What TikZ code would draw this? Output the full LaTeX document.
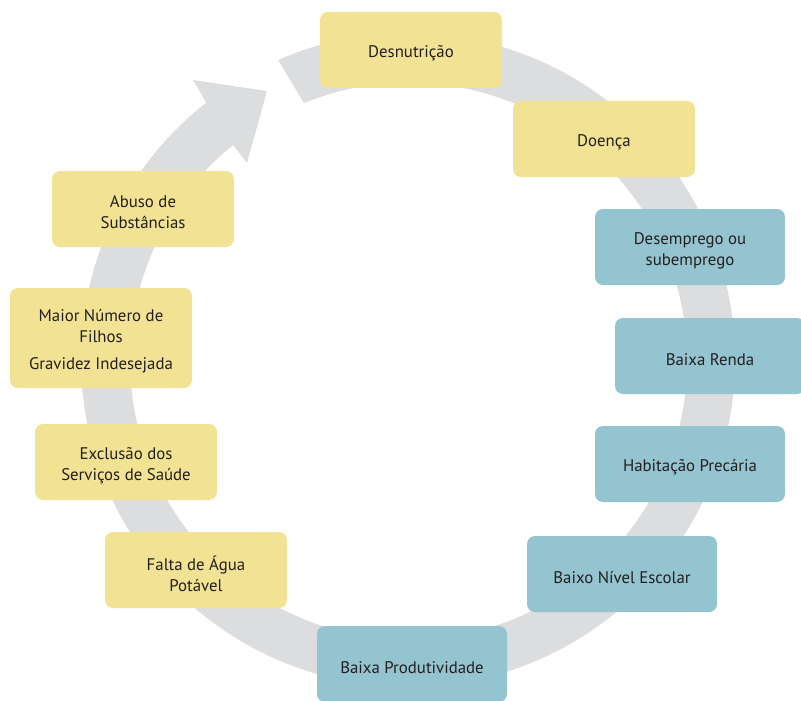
\documentclass[tikz,border=0pt]{standalone}
\usepackage{fontspec}
\setmainfont{PT Sans}
\usetikzlibrary{calc}
\definecolor{boxyellow}{HTML}{F2E293}
\definecolor{boxblue}{HTML}{94C4D0}
\definecolor{ringgray}{HTML}{DCDDDE}
\definecolor{txt}{HTML}{231F20}
\begin{document}
\begin{tikzpicture}[x=1pt,y=1pt,
  boxtext/.style={align=center, text=txt, inner sep=0pt, yshift=-3.5pt,
    font=\fontsize{16.8}{21}\selectfont},
  cyclebox/.style={rounded corners=8pt, minimum height=76pt, inner sep=0pt},
  ybox/.style={cyclebox, fill=boxyellow, minimum width=182pt},
  bbox/.style={cyclebox, fill=boxblue, minimum width=190pt}]
\useasboundingbox (0,0) rectangle (801,-701);
\clip (0,0) rectangle (801,-701);
\coordinate (C) at (408,-360);
% ring arrow
\fill[ringgray] ($(C)+(113.4:327)$) arc[start angle=113.4, end angle=-231.9, radius=327]
  -- (193,-80) -- (267,-91) -- (247,-163) -- (233,-145)
  arc[start angle=-230.9, end angle=112.1, radius=278.5] -- cycle;
% boxes
\node[ybox, label={[boxtext]center:Desnutrição}] (n1) at (411,-50) {};
\node[ybox, label={[boxtext]center:Doença}] (n2) at (604,-139) {};
\node[bbox, label={[boxtext]center:Desemprego ou\\subemprego}] (n3) at (690,-247) {};
\node[bbox, label={[boxtext]center:Baixa Renda}] (n4) at (710,-356) {};
\node[bbox, label={[boxtext]center:Habitação Precária}] (n5) at (690,-464) {};
\node[bbox, label={[boxtext]center:Baixo Nível Escolar}] (n6) at (622,-574) {};
\node[bbox, label={[boxtext]center:Baixa Produtividade}] (n7) at (412,-664) {};
\node[ybox, label={[boxtext]center:Falta de Água\\Potável}] (n8) at (196,-570) {};
\node[ybox, label={[boxtext]center:Exclusão dos\\Serviços de Saúde}] (n9) at (126,-462) {};
\node[ybox, minimum height=100pt, label={[boxtext]center:Maior Número de\\Filhos\\[6pt]Gravidez Indesejada}] (n10) at (101,-338) {};
\node[ybox, label={[boxtext]center:Abuso de\\Substâncias}] (n11) at (143,-209) {};
\end{tikzpicture}
\end{document}
